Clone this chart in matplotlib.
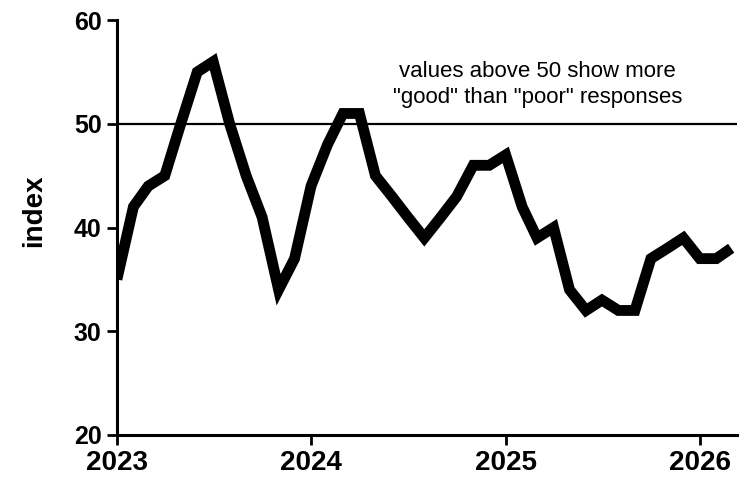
import numpy as np
import pandas as pd
import matplotlib
matplotlib.use("Agg")
import matplotlib.pyplot as plt
import matplotlib.dates as mdates

plt.rcParams['font.family'] = ['Liberation Sans', 'DejaVu Sans']

# monthly index, Jan 2023 - Mar 2026
months = pd.date_range("2023-01-01", periods=39, freq="MS")
index_values = [
    35, 42, 44, 45, 50, 55, 56, 50, 45, 41, 34, 37,   # 2023
    44, 48, 51, 51, 45, 43, 41, 39, 41, 43, 46, 46,   # 2024
    47, 42, 39, 40, 34, 32, 33, 32, 32, 37, 38, 39,   # 2025
    37, 37, 38,                                       # 2026
]
year_ticks = ["2023", "2024", "2025", "2026"]
y_ticks = [20, 30, 40, 50, 60]
threshold = 50
note = 'values above 50 show more\n"good" than "poor" responses'

fig = plt.figure(figsize=(7.4, 4.8), dpi=100)
ax = fig.add_axes([0.158, 0.094, 0.838, 0.864])

ax.axhline(threshold, color="black", lw=1.6, zorder=1)
ax.plot(months, index_values, color="black", lw=7.8,
        solid_joinstyle="miter", solid_capstyle="butt", zorder=2)

ax.set_ylim(20, 60)
ax.set_xlim(pd.Timestamp("2023-01-01"), pd.Timestamp("2026-03-12"))
ax.set_yticks(y_ticks)
ax.set_xticks([pd.Timestamp(f"{y}-01-01") for y in year_ticks])
ax.set_xticklabels(year_ticks)

for s in ["top", "right"]:
    ax.spines[s].set_visible(False)
for s in ["left", "bottom"]:
    ax.spines[s].set_linewidth(2.2)
ax.tick_params(width=2, length=7, pad=4)
ax.tick_params(axis="x", labelsize=20)
ax.tick_params(axis="y", labelsize=18)
for lab in ax.get_xticklabels() + ax.get_yticklabels():
    lab.set_fontweight("bold")

ax.set_ylabel("index", fontsize=20, fontweight="bold")
ax.yaxis.set_label_coords(-0.112, 0.54)

ax.text(0.678, 0.845, note, transform=ax.transAxes, ha="center", va="center",
        fontsize=16, linespacing=1.3)

fig.savefig("out.png", dpi=100)
